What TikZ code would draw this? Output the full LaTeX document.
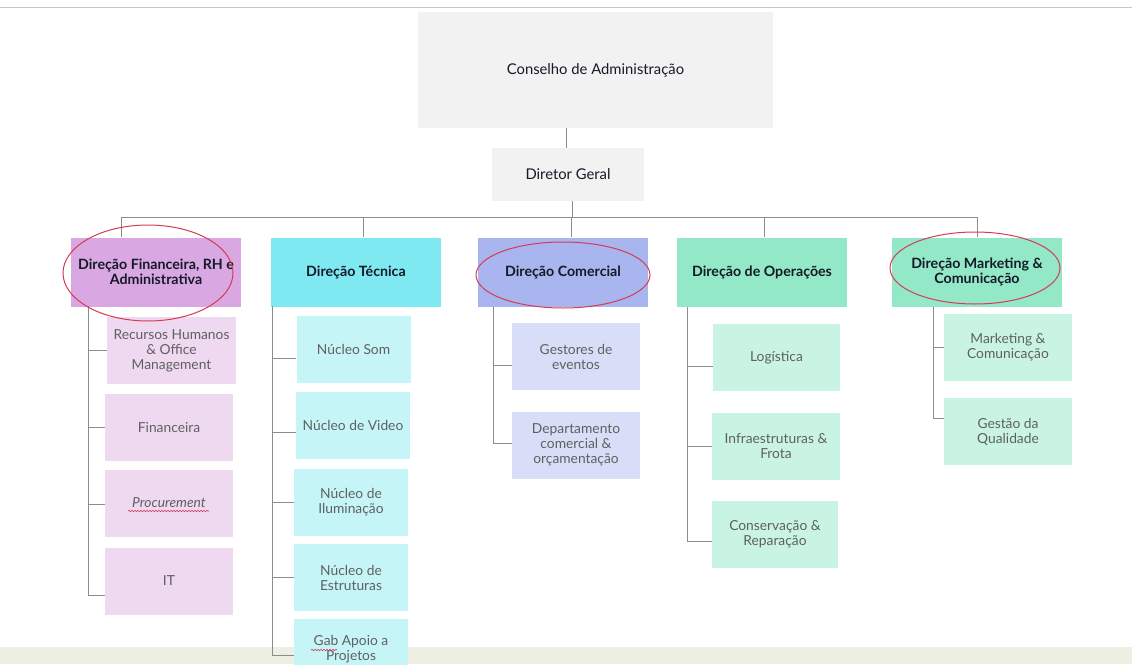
\documentclass[tikz,border=0pt]{standalone}
\usepackage{fontspec}
\setmainfont{Lato}
\usetikzlibrary{decorations.pathmorphing}
\definecolor{topgray}{HTML}{F2F2F2}
\definecolor{linegray}{HTML}{8C8C8C}
\definecolor{hA}{HTML}{D9A8E3}
\definecolor{sA}{HTML}{EED9F1}
\definecolor{hB}{HTML}{7FE9F1}
\definecolor{sB}{HTML}{C6F5F8}
\definecolor{hC}{HTML}{A9B5EE}
\definecolor{sC}{HTML}{D8DEF7}
\definecolor{hD}{HTML}{93E8C8}
\definecolor{sD}{HTML}{C9F4E3}
\definecolor{band}{HTML}{EFEEE2}
\definecolor{ring}{HTML}{D63A55}
\definecolor{headtxt}{HTML}{151A26}
\definecolor{subtxt}{HTML}{606060}
\tikzset{
  gbox/.style={fill=topgray, draw=none, inner sep=0pt, align=center, text=headtxt,
    font=\fontsize{14.8}{16}\selectfont},
  hbox/.style={draw=none, inner sep=0pt, align=center, text=headtxt,
    minimum width=170pt, minimum height=69pt,
    font=\fontsize{14.2}{14.5}\selectfont\bfseries},
  sbox/.style={draw=none, inner sep=0pt, align=center, text=subtxt,
    minimum width=128pt, minimum height=67pt,
    font=\fontsize{13.8}{15}\selectfont},
  conn/.style={draw=linegray, line width=0.9pt},
  redring/.style={draw=ring, line width=1pt},
  squig/.style={draw=ring, line width=0.6pt, decorate,
    decoration={snake, amplitude=0.7pt, segment length=3pt}}
}
\begin{document}
\begin{tikzpicture}[x=1pt,y=-1pt]
\useasboundingbox (0,0) rectangle (1132,664);
\fill[white] (0,0) rectangle (1132,664);
% bottom band and top rule
\fill[band] (0,647) rectangle (1132,664);
\draw[draw=black!22, line width=1pt] (0,7) -- (1132,7);

% top level
\node[gbox, minimum width=355pt, minimum height=116pt] (ca) at (595.5,70) {Conselho de Administração};
\node[gbox, minimum width=152pt, minimum height=53pt] (dg) at (568,174.5) {Diretor Geral};
\draw[conn] (ca.south -| 566,0) -- (dg.north -| 566,0);

% directors
\node[hbox, fill=hA, minimum width=170pt] (h1) at (156,272) {Direção Financeira, RH e\\Administrativa};
\node[hbox, fill=hB] (h2) at (356,272) {Direção Técnica};
\node[hbox, fill=hC] (h3) at (563,272) {Direção Comercial};
\node[hbox, fill=hD] (h4) at (762,272) {Direção de Operações};
\node[hbox, fill=hD] (h5) at (977,272) {Direção Marketing \&\\Comunicação};

\coordinate (bl) at (121,217);
\coordinate (br) at (977,217);
\coordinate (bm) at (572,217);
\draw[conn] (dg.south -| bm) -- (bm);
\draw[conn] (bl) -- (br);
\draw[conn] (bl) -- (bl |- h1.north);
\draw[conn] (363,217) -- (h2.north -| 363,0);
\draw[conn] (571,217) -- (h3.north -| 571,0);
\draw[conn] (764,217) -- (h4.north -| 764,0);
\draw[conn] (br) -- (br |- h5.north);

% column 1
\node[sbox, fill=sA, minimum width=129pt] (rh) at (171.5,350.5) {Recursos Humanos\\\& Office\\Management};
\node[sbox, fill=sA] (fi) at (169,427.5) {Financeira};
\node[sbox, fill=sA] (pr) at (169,503) {\itshape Procurement};
\node[sbox, fill=sA] (it) at (169,581) {IT};
\coordinate (t1) at (88,306);
\draw[conn] (t1) |- ([yshift=-14pt]it.west);
\draw[conn] (t1 |- rh.west) -- (rh.west);
\draw[conn] (t1 |- fi.west) -- (fi.west);
\draw[conn] ([yshift=-1pt]t1 |- pr.west) -- ([yshift=-1pt]pr.west);
\draw[squig] (128,511) -- (209,511);

% column 2
\node[sbox, fill=sB, minimum width=114pt] (ns) at (353.5,349.5) {Núcleo Som};
\node[sbox, fill=sB, minimum width=114pt] (nv) at (353,425.5) {Núcleo de Video};
\node[sbox, fill=sB, minimum width=114pt] (ni) at (351,502.5) {Núcleo de\\Iluminação};
\node[sbox, fill=sB, minimum width=114pt] (ne) at (351,577.5) {Núcleo de\\Estruturas};
\node[sbox, fill=sB, minimum width=114pt, minimum height=61pt] (ga) at (351,649.5) {Gab Apoio a\\Projetos};
\coordinate (t2) at (272,306);
\draw[conn] (t2) |- ([yshift=-5.5pt]ga.west);
\draw[conn] (t2 |- ns.west) ++(0,9) -- ([yshift=-9pt]ns.west);
\draw[conn] (t2 |- nv.west) ++(0,7) -- ([yshift=-7pt]nv.west);
\draw[conn] (t2 |- ni.west) -- (ni.west);
\draw[conn] (t2 |- ne.west) -- (ne.west);
\draw[squig] (311,650) -- (337,650);

% column 3
\node[sbox, fill=sC] (ge) at (576,356.5) {Gestores de\\eventos};
\node[sbox, fill=sC] (dc) at (576,445) {Departamento\\comercial \&\\orçamentação};
\coordinate (t3) at (493,307);
\draw[conn] (t3) |- ([yshift=2pt]dc.west);
\draw[conn] (t3 |- ge.west) ++(0,9) -- ([yshift=-9pt]ge.west);

% column 4
\node[sbox, fill=sD, minimum width=127pt] (lo) at (776.5,357.5) {Logística};
\node[sbox, fill=sD] (if) at (776,446) {Infraestruturas \&\\Frota};
\node[sbox, fill=sD, minimum width=126pt] (co) at (775,534.5) {Conservação \&\\Reparação};
\coordinate (t4) at (687,307);
\draw[conn] (t4) |- ([yshift=-7pt]co.west);
\draw[conn] (t4 |- lo.west) ++(0,9) -- ([yshift=-9pt]lo.west);
\draw[conn] (t4 |- if.west) -- (if.west);

% column 5
\node[sbox, fill=sD] (mc) at (1008,347.5) {Marketing \&\\Comunicação};
\node[sbox, fill=sD] (gq) at (1008,431.5) {Gestão da\\Qualidade};
\coordinate (t5) at (933,307);
\draw[conn] (t5) |- ([yshift=13pt]gq.west);
\draw[conn] (t5 |- mc.west) -- (mc.west);

% red hand-drawn rings
\draw[redring] (148,273) ellipse [x radius=85, y radius=48];
\draw[redring] (563,275) ellipse [x radius=87, y radius=33];
\draw[redring] (975,268) ellipse [x radius=85, y radius=36];
\end{tikzpicture}
\end{document}
